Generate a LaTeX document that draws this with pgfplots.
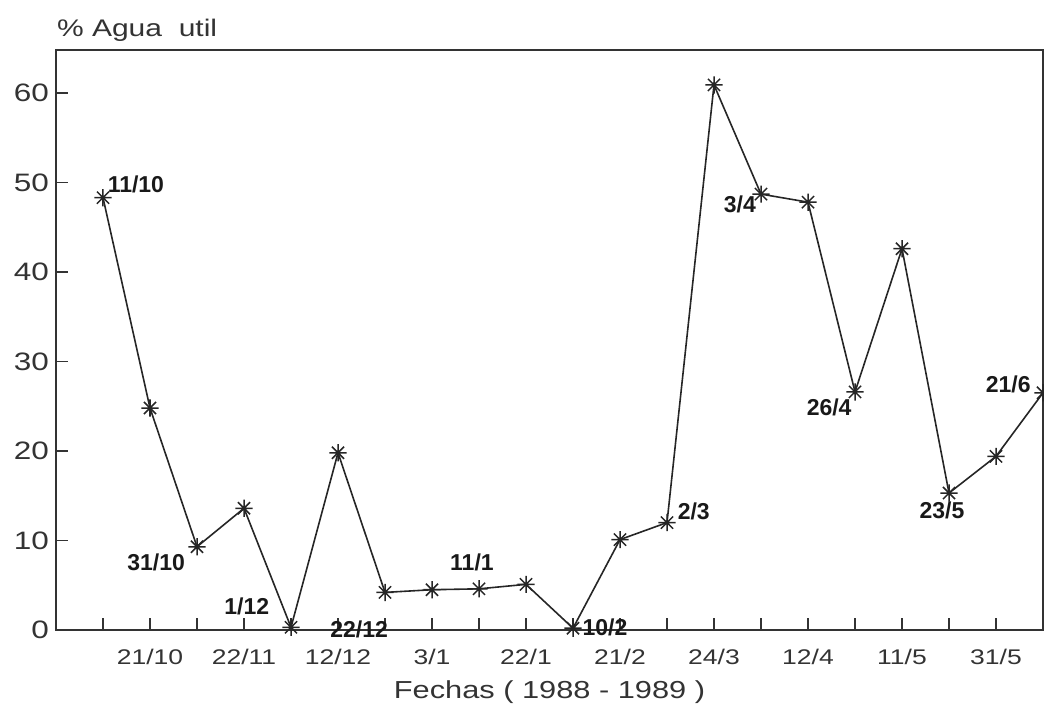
\documentclass[border=0pt]{standalone}
\usepackage{fontspec}
\setmainfont{Liberation Sans}
\newfontfamily\wide{Liberation Sans}[FakeStretch=1.25]
\usepackage{pgfplots}
\pgfplotsset{compat=1.18}
\usetikzlibrary{calc}

\pgfdeclareplotmark{star8}{%
  \pgfpathmoveto{\pgfpoint{0pt}{\pgfplotmarksize}}%
  \pgfpathlineto{\pgfpoint{0pt}{-\pgfplotmarksize}}%
  \pgfpathmoveto{\pgfpoint{\pgfplotmarksize}{0pt}}%
  \pgfpathlineto{\pgfpoint{-\pgfplotmarksize}{0pt}}%
  \pgfpathmoveto{\pgfpoint{0.7071\pgfplotmarksize}{0.7071\pgfplotmarksize}}%
  \pgfpathlineto{\pgfpoint{-0.7071\pgfplotmarksize}{-0.7071\pgfplotmarksize}}%
  \pgfpathmoveto{\pgfpoint{-0.7071\pgfplotmarksize}{0.7071\pgfplotmarksize}}%
  \pgfpathlineto{\pgfpoint{0.7071\pgfplotmarksize}{-0.7071\pgfplotmarksize}}%
  \pgfusepathqstroke}

\pgfplotstableread{
x y
0 48.3
1 24.8
2 9.3
3 13.6
4 0.3
5 19.8
6 4.2
7 4.5
8 4.6
9 5.1
10 0.2
11 10.1
12 12.0
13 60.9
14 48.7
15 47.8
16 26.6
17 42.6
18 15.3
19 19.4
20 26.5
}\agua

\begin{document}
\begin{tikzpicture}
\begin{axis}[
  scale only axis, width=493.5pt, height=290pt,
  xmin=-1, xmax=20, ymin=0, ymax=64.8,
  clip=false,
  axis line style={draw=black!80, line width=0.9pt},
  xtick={0,...,19},
  xticklabels={,21/10,,22/11,,12/12,,3/1,,22/1,,21/2,,24/3,,12/4,,11/5,,31/5},
  ytick={0,10,...,60},
  tick align=inside, xtick pos=bottom, ytick pos=left,
  major tick length=6pt,
  tick style={draw=black!80, line width=0.8pt},
  /pgf/number format/assume math mode=true,
  xticklabel style={font=\wide\fontsize{10.6}{12}\selectfont, text=black!80, yshift=-6pt},
  yticklabel style={font=\wide\fontsize{12.6}{14}\selectfont, text=black!80},
  xlabel={Fechas ( 1988 - 1989 )},
  xlabel style={font=\wide\fontsize{12.3}{14}\selectfont, text=black!80, at={(axis description cs:0.5,0)}, anchor=center, yshift=-31pt},
  ylabel={\% Agua\ \ util},
  ylabel style={font=\wide\fontsize{12}{14}\selectfont, text=black!80, rotate=-90, at={(axis description cs:0,1)}, anchor=west, yshift=10pt, xshift=-3pt},
]
\addplot[black!85, line width=0.8pt, mark=star8, mark size=4.3pt, mark options={line width=0.75pt}] table[x=x, y=y] {\agua};
\coordinate (SW) at (rel axis cs:0,0);
\coordinate (NE) at (rel axis cs:1,1);
\begin{scope}[every node/.style={font=\bfseries\fontsize{11.5}{13}\selectfont, text=black!90, inner sep=0pt}]
\node at (axis cs:0.70,49.8) {11/10};
\node at (axis cs:1.13,7.5) {31/10};
\node at (axis cs:3.06,2.6) {1/12};
\node at (axis cs:5.45,0.1) {22/12};
\node at (axis cs:7.85,7.6) {11/1};
\node at (axis cs:10.68,0.3) {10/2};
\node at (axis cs:12.57,13.3) {2/3};
\node at (axis cs:13.55,47.5) {3/4};
\node at (axis cs:15.45,24.9) {26/4};
\node at (axis cs:17.85,13.4) {23/5};
\node at (axis cs:19.26,27.4) {21/6};
\end{scope}
\end{axis}
\pgfresetboundingbox
\path[use as bounding box] ($(SW)+(-28pt,-38.5pt)$) rectangle ($(NE)+(0.5pt,25pt)$);
\end{tikzpicture}
\end{document}
